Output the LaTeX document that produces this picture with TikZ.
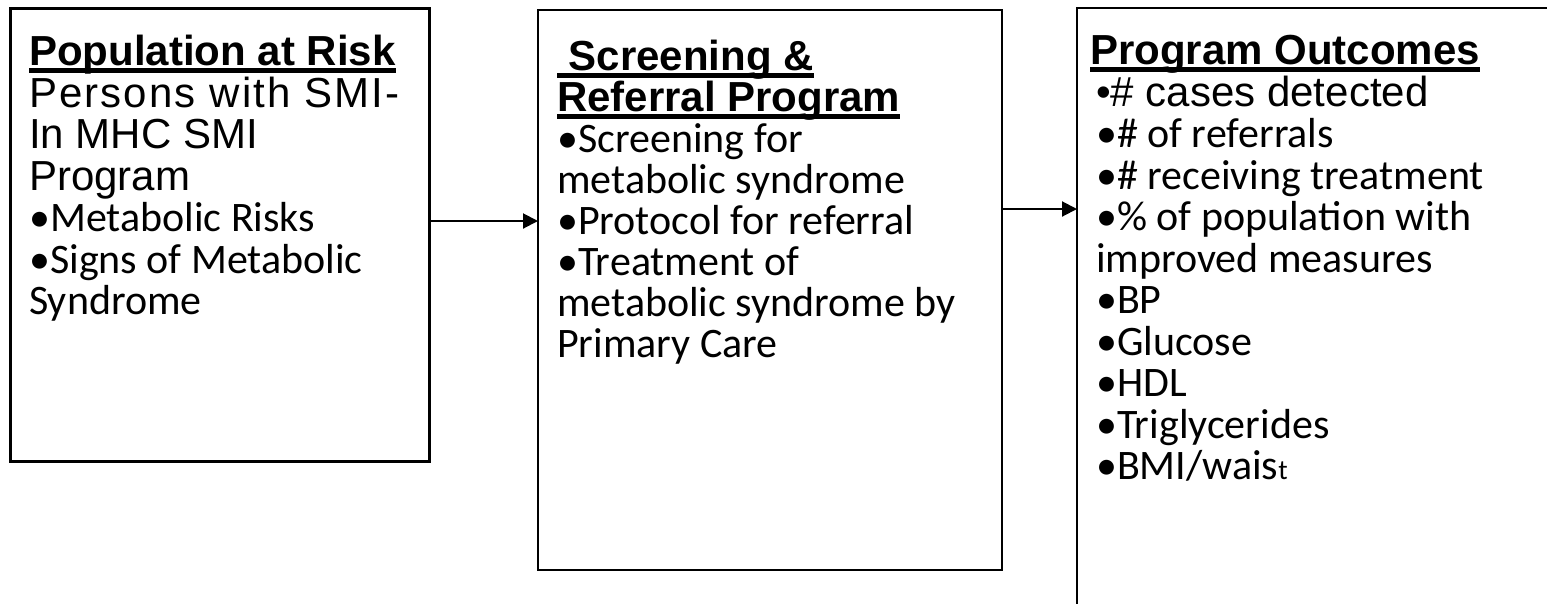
\documentclass[tikz,border=0pt]{standalone}
\usepackage{fontspec}
\newfontfamily\arialf{Liberation Sans}
\newfontfamily\calf{Carlito}
\usetikzlibrary{arrows.meta,positioning}

\newsavebox\hdbox
\newcommand{\hdul}[1]{\sbox\hdbox{#1}\rlap{\rule[-7pt]{\wd\hdbox}{4.5pt}}\usebox\hdbox}

\tikzset{
  box/.style={draw, line width=2pt, anchor=north west, inner sep=0pt, outer sep=0pt},
  txt/.style={anchor=north west, inner sep=0pt, align=left,
    font=\arialf\fontsize{42}{41.5}\selectfont},
  flow/.style={line width=2pt, -{Triangle[length=15pt,width=15pt]}},
}

\begin{document}
\begin{tikzpicture}[x=1pt,y=-1pt]
  \useasboundingbox (0,0) rectangle (1547,603);
  \clip (0,0) rectangle (1547,603);
  % the three boxes
  \node[box, line width=3pt, minimum width=419pt, minimum height=453pt] (risk) at (10,8) {};
  \node[box, minimum width=464pt, minimum height=560pt] (prog) at (538,10) {};
  \node[box, minimum width=500pt, minimum height=640pt] (outc) at (1077,8) {};
  % texts
  \node[txt] (risktxt) at (29,35) {{\bfseries\hdul{Population at Risk}}\\
    {\addfontfeature{LetterSpace=5}Persons with SMI-}\\
    In MHC SMI\\
    Program\\
    {\calf •Metabolic Risks}\\
    {\calf •Signs of Metabolic}\\
    {\calf Syndrome}};
  \node[txt, font=\arialf\fontsize{42}{41}\selectfont] (progtxt) at (557,40) {{\bfseries\hdul{\ Screening \&}}\\
    {\bfseries\hdul{Referral Program}}\\
    {\calf •Screening for}\\
    {\calf metabolic syndrome}\\
    {\calf •Protocol for referral}\\
    {\calf •Treatment of}\\
    {\calf metabolic syndrome by}\\
    {\calf Primary Care}};
  \node[txt] (outctxt) at (1096,35) {{\kern-6pt\bfseries\hdul{Program Outcomes}}\\
    •\# cases detected\\
    {\calf •\# of referrals}\\
    {\calf •\# receiving treatment}\\
    {\calf •\% of population with}\\
    {\calf improved measures}\\
    {\calf •BP}\\
    {\calf •Glucose}\\
    {\calf •HDL}\\
    {\calf •Triglycerides}\\
    {\calf •BMI/wais{\fontsize{28}{41.5}\selectfont t}}};
  % arrows
  \draw[flow] ([yshift=13.5pt]risk.east) -- ([yshift=13.5pt]risk.east -| prog.west);
  \draw[flow] ([yshift=81pt]prog.east) -- ([yshift=81pt]prog.east -| outc.west);
\end{tikzpicture}
\end{document}
